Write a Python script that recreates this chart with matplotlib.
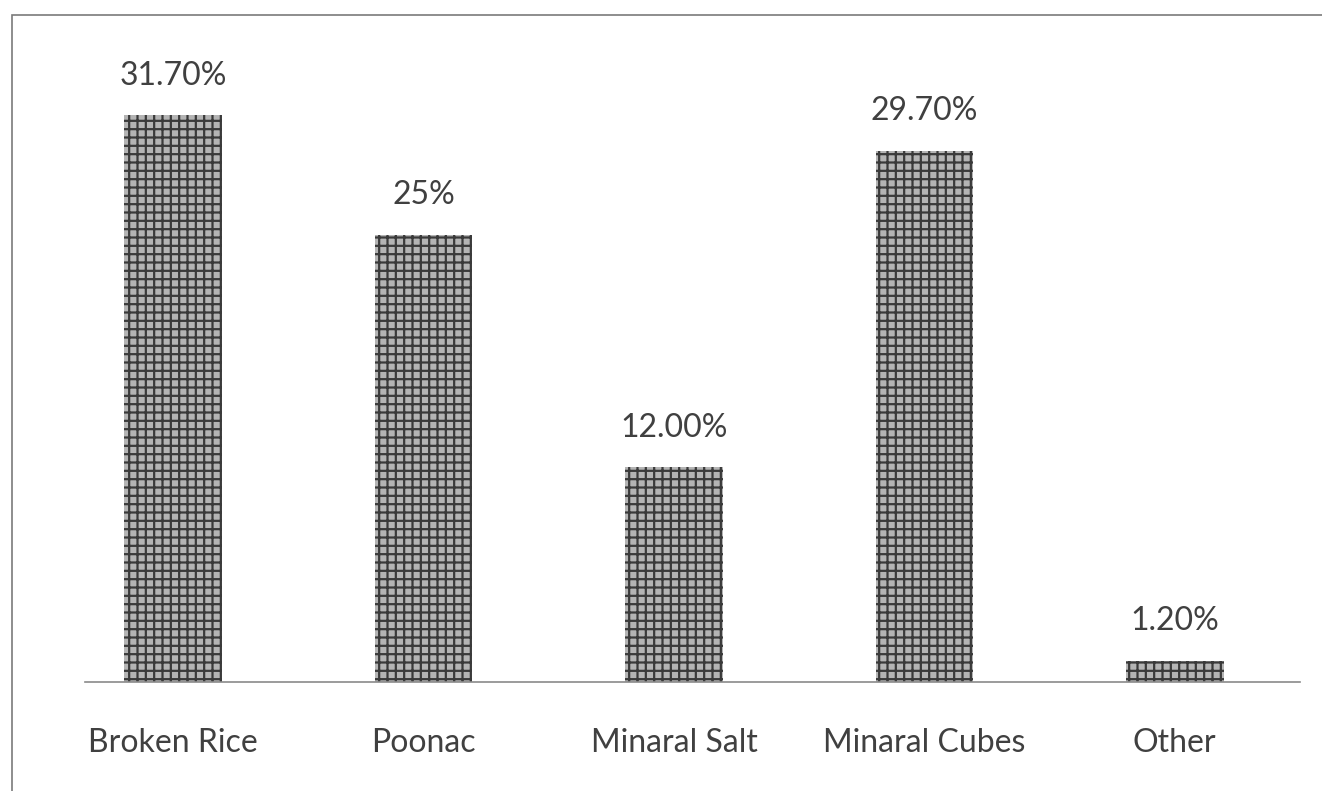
import matplotlib
matplotlib.use("Agg")
import matplotlib.pyplot as plt
from matplotlib.patches import Rectangle

categories = ["Broken Rice", "Poonac", "Minaral Salt", "Minaral Cubes", "Other"]
values = [31.7, 25.0, 12.0, 29.7, 1.2]
labels = ["31.70%", "25%", "12.00%", "29.70%", "1.20%"]

plt.rcParams['font.family'] = ['Lato', 'DejaVu Sans']
plt.rcParams['hatch.color'] = '#3a3a3a'
plt.rcParams['hatch.linewidth'] = 1.6

W, H = 1322, 791
fig = plt.figure(figsize=(W / 100, H / 100), dpi=100)
fig.patch.set_facecolor('white')

# axes: baseline at y=682px, spans x 85..1300px
ax = fig.add_axes([85 / W, (H - 682) / H, (1300 - 85) / W, (682 - 50) / H])

x = list(range(len(categories)))
ax.bar(x, values, width=0.39, color='#b4b4b4', edgecolor='#3a3a3a',
       hatch='++', linewidth=0)

for xi, v, lab in zip(x, values, labels):
    ax.text(xi, v + 2.2, lab, ha='center', va='center', fontsize=23,
            color='#404040')

ax.set_xlim(-0.352, 4.5)
ax.set_ylim(0, (682 - 50) / 17.89)
ax.set_xticks(x)
ax.set_xticklabels(categories, fontsize=23, color='#404040')
ax.tick_params(axis='x', length=0, pad=33)
ax.set_yticks([])
for s in ['top', 'right', 'left']:
    ax.spines[s].set_visible(False)
ax.spines['bottom'].set_color('#8a8a8a')
ax.spines['bottom'].set_linewidth(1.2)

# outer frame (only top and left edges visible in the reference)
fig.patches.append(Rectangle((12 / W, -0.1), 1.2, (H - 15) / H + 0.1,
                             transform=fig.transFigure, fill=False,
                             edgecolor='#7a7a7a', linewidth=1.2))

fig.savefig('out.png', dpi=100)
